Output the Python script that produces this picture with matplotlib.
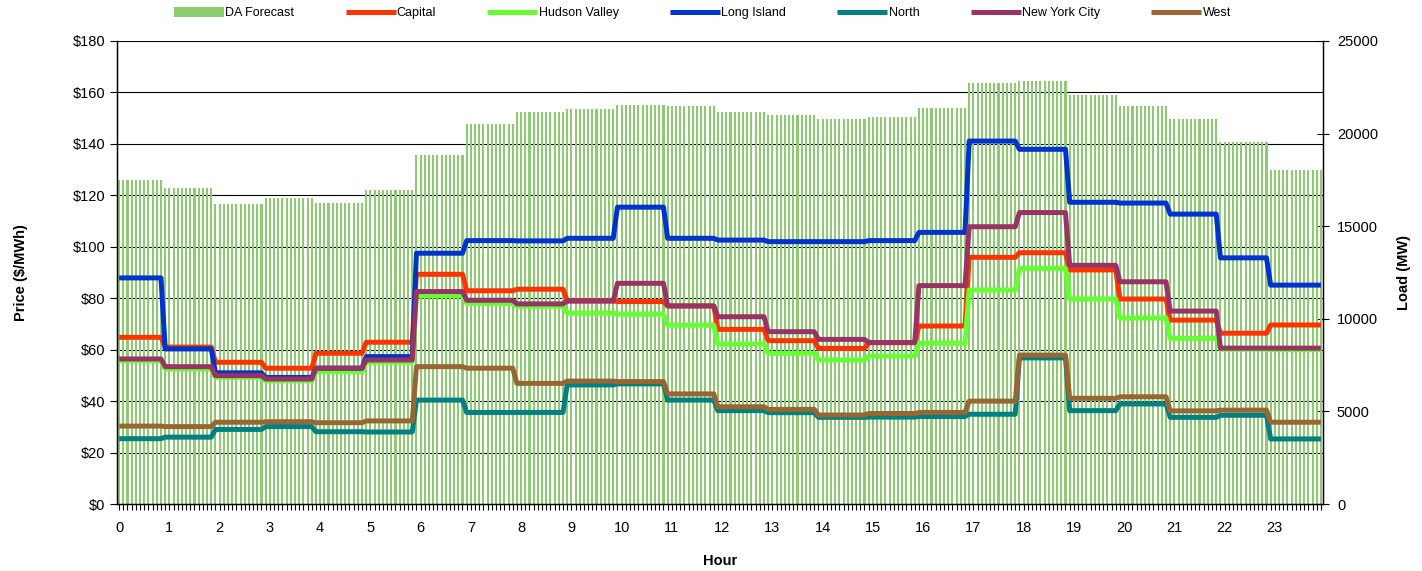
import numpy as np
import matplotlib.pyplot as plt
import matplotlib.transforms as mtransforms
from matplotlib.ticker import FuncFormatter

plt.rcParams['font.family'] = ['Liberation Sans', 'DejaVu Sans']

hours = np.arange(24)
da_forecast = [17500, 17070, 16200, 16540, 16250, 16950, 18850, 20520, 21170, 21330,
               21550, 21490, 21170, 21000, 20790, 20900, 21380, 22730, 22840, 22090,
               21490, 20790, 19530, 18040]
capital = [64.8, 61.0, 55.1, 52.8, 58.6, 62.9, 89.3, 82.9, 83.5, 79.0,
           78.7, 77.0, 67.9, 63.5, 60.5, 62.7, 69.2, 95.9, 97.7, 91.0,
           79.7, 71.5, 66.4, 69.6]
hudson_valley = [55.7, 52.5, 49.3, 47.9, 51.4, 55.1, 80.9, 78.0, 76.9, 74.2,
                 73.8, 69.5, 62.2, 58.6, 56.0, 57.5, 62.5, 83.2, 91.6, 79.7,
                 72.3, 64.4, 60.2, 60.0]
long_island = [87.9, 60.3, 51.0, 49.2, 52.8, 57.3, 97.5, 102.4, 102.3, 103.3,
               115.4, 103.3, 102.6, 102.0, 102.0, 102.4, 105.6, 141.1, 137.9, 117.3,
               117.0, 112.7, 95.7, 85.1]
north = [25.4, 26.0, 29.0, 30.1, 28.1, 28.0, 40.4, 35.6, 35.6, 46.3,
         46.7, 40.4, 36.3, 35.5, 33.7, 33.8, 34.0, 34.9, 56.8, 36.3,
         38.9, 33.7, 34.5, 25.3]
new_york_city = [56.4, 53.4, 49.9, 48.6, 52.8, 56.0, 82.6, 79.2, 77.8, 78.9,
                 85.8, 77.0, 72.8, 67.0, 64.0, 62.8, 84.9, 107.8, 113.3, 92.8,
                 86.4, 75.0, 60.6, 60.6]
west = [30.3, 30.1, 31.8, 32.0, 31.6, 32.3, 53.4, 52.8, 46.9, 47.8,
        47.6, 42.8, 37.8, 36.8, 34.6, 35.2, 35.6, 40.0, 57.9, 41.1,
        41.7, 36.2, 36.5, 31.8]

# 5-minute intervals, 12 per hour; each hour's value starts on the last interval of the previous hour
steps = 12
idx = np.arange(24 * steps)
hour_of = np.minimum((idx + 1) // steps, 23)


def expand(vals):
    return np.asarray(vals)[hour_of]


series = [
    ('Capital', capital, '#FF3300'),
    ('Hudson Valley', hudson_valley, '#66FF33'),
    ('Long Island', long_island, '#0033CC'),
    ('North', north, '#008080'),
    ('New York City', new_york_city, '#993366'),
    ('West', west, '#996633'),
]

fig = plt.figure(figsize=(14.22, 5.71), dpi=100)
ax = fig.add_axes([0.0823, 0.1173, 0.8481, 0.8109])
ax2 = ax.twinx()

# load bars (background axes, right scale)
bars = ax.bar(idx, expand(da_forecast), width=0.5, color='#8CCB70', zorder=2, label='DA Forecast')
ax.set_ylim(0, 25000)
ax.set_xlim(-0.5, len(idx) - 0.5)
ax.yaxis.set_ticks_position('right')
ax.yaxis.set_label_position('right')
ax.set_yticks(np.arange(0, 25001, 5000))
ax.tick_params(axis='y', direction='inout', length=8, width=0.8, labelsize=10.5, pad=6)
ax.set_ylabel('Load (MW)', fontsize=10.5, fontweight='bold', rotation=90, labelpad=14)

# price gridlines behind the bars
price_ticks = np.arange(0, 181, 20)
blend = mtransforms.blended_transform_factory(ax.transAxes, ax2.transData)
for p in price_ticks[1:]:
    ax.plot([0, 1], [p, p], color='black', lw=0.8, transform=blend, zorder=1)

# price lines (front axes, left scale)
lines = []
for name, vals, col in series:
    ln, = ax2.plot(idx, expand(vals), color=col, lw=3.6, label=name,
                   solid_joinstyle='round', solid_capstyle='butt')
    lines.append(ln)
ax2.set_ylim(0, 180)
ax2.set_yticks(price_ticks)
ax2.yaxis.set_major_formatter(FuncFormatter(lambda v, p: '${:.0f}'.format(v)))
ax2.yaxis.set_ticks_position('left')
ax2.yaxis.set_label_position('left')
ax2.tick_params(axis='y', direction='out', length=5, width=0.8, labelsize=10.5)
ax2.set_ylabel('Price ($/MWh)', fontsize=10.5, fontweight='bold', labelpad=32)

# hour axis
ax.set_xticks(hours * steps)
ax.set_xticklabels([str(h) for h in hours])
ax.set_xticks(idx, minor=True)
ax.tick_params(axis='x', which='both', direction='out', length=4, width=0.8, labelsize=10.5, pad=8)
ax.set_xlabel('Hour', fontsize=10.5, fontweight='bold', labelpad=14)
ax2.tick_params(axis='x', which='both', length=0)

for a in (ax, ax2):
    a.spines['top'].set_visible(False)
    for s in ('left', 'right', 'bottom'):
        a.spines[s].set_linewidth(0.9)

fig.legend([bars] + lines, ['DA Forecast'] + [s[0] for s in series],
           loc='center', bbox_to_anchor=(0.494, 0.977), ncol=7, frameon=False,
           fontsize=9, handlelength=4.0, handleheight=0.8, handletextpad=0.1,
           columnspacing=4.1)

fig.savefig('out.png', dpi=100)
